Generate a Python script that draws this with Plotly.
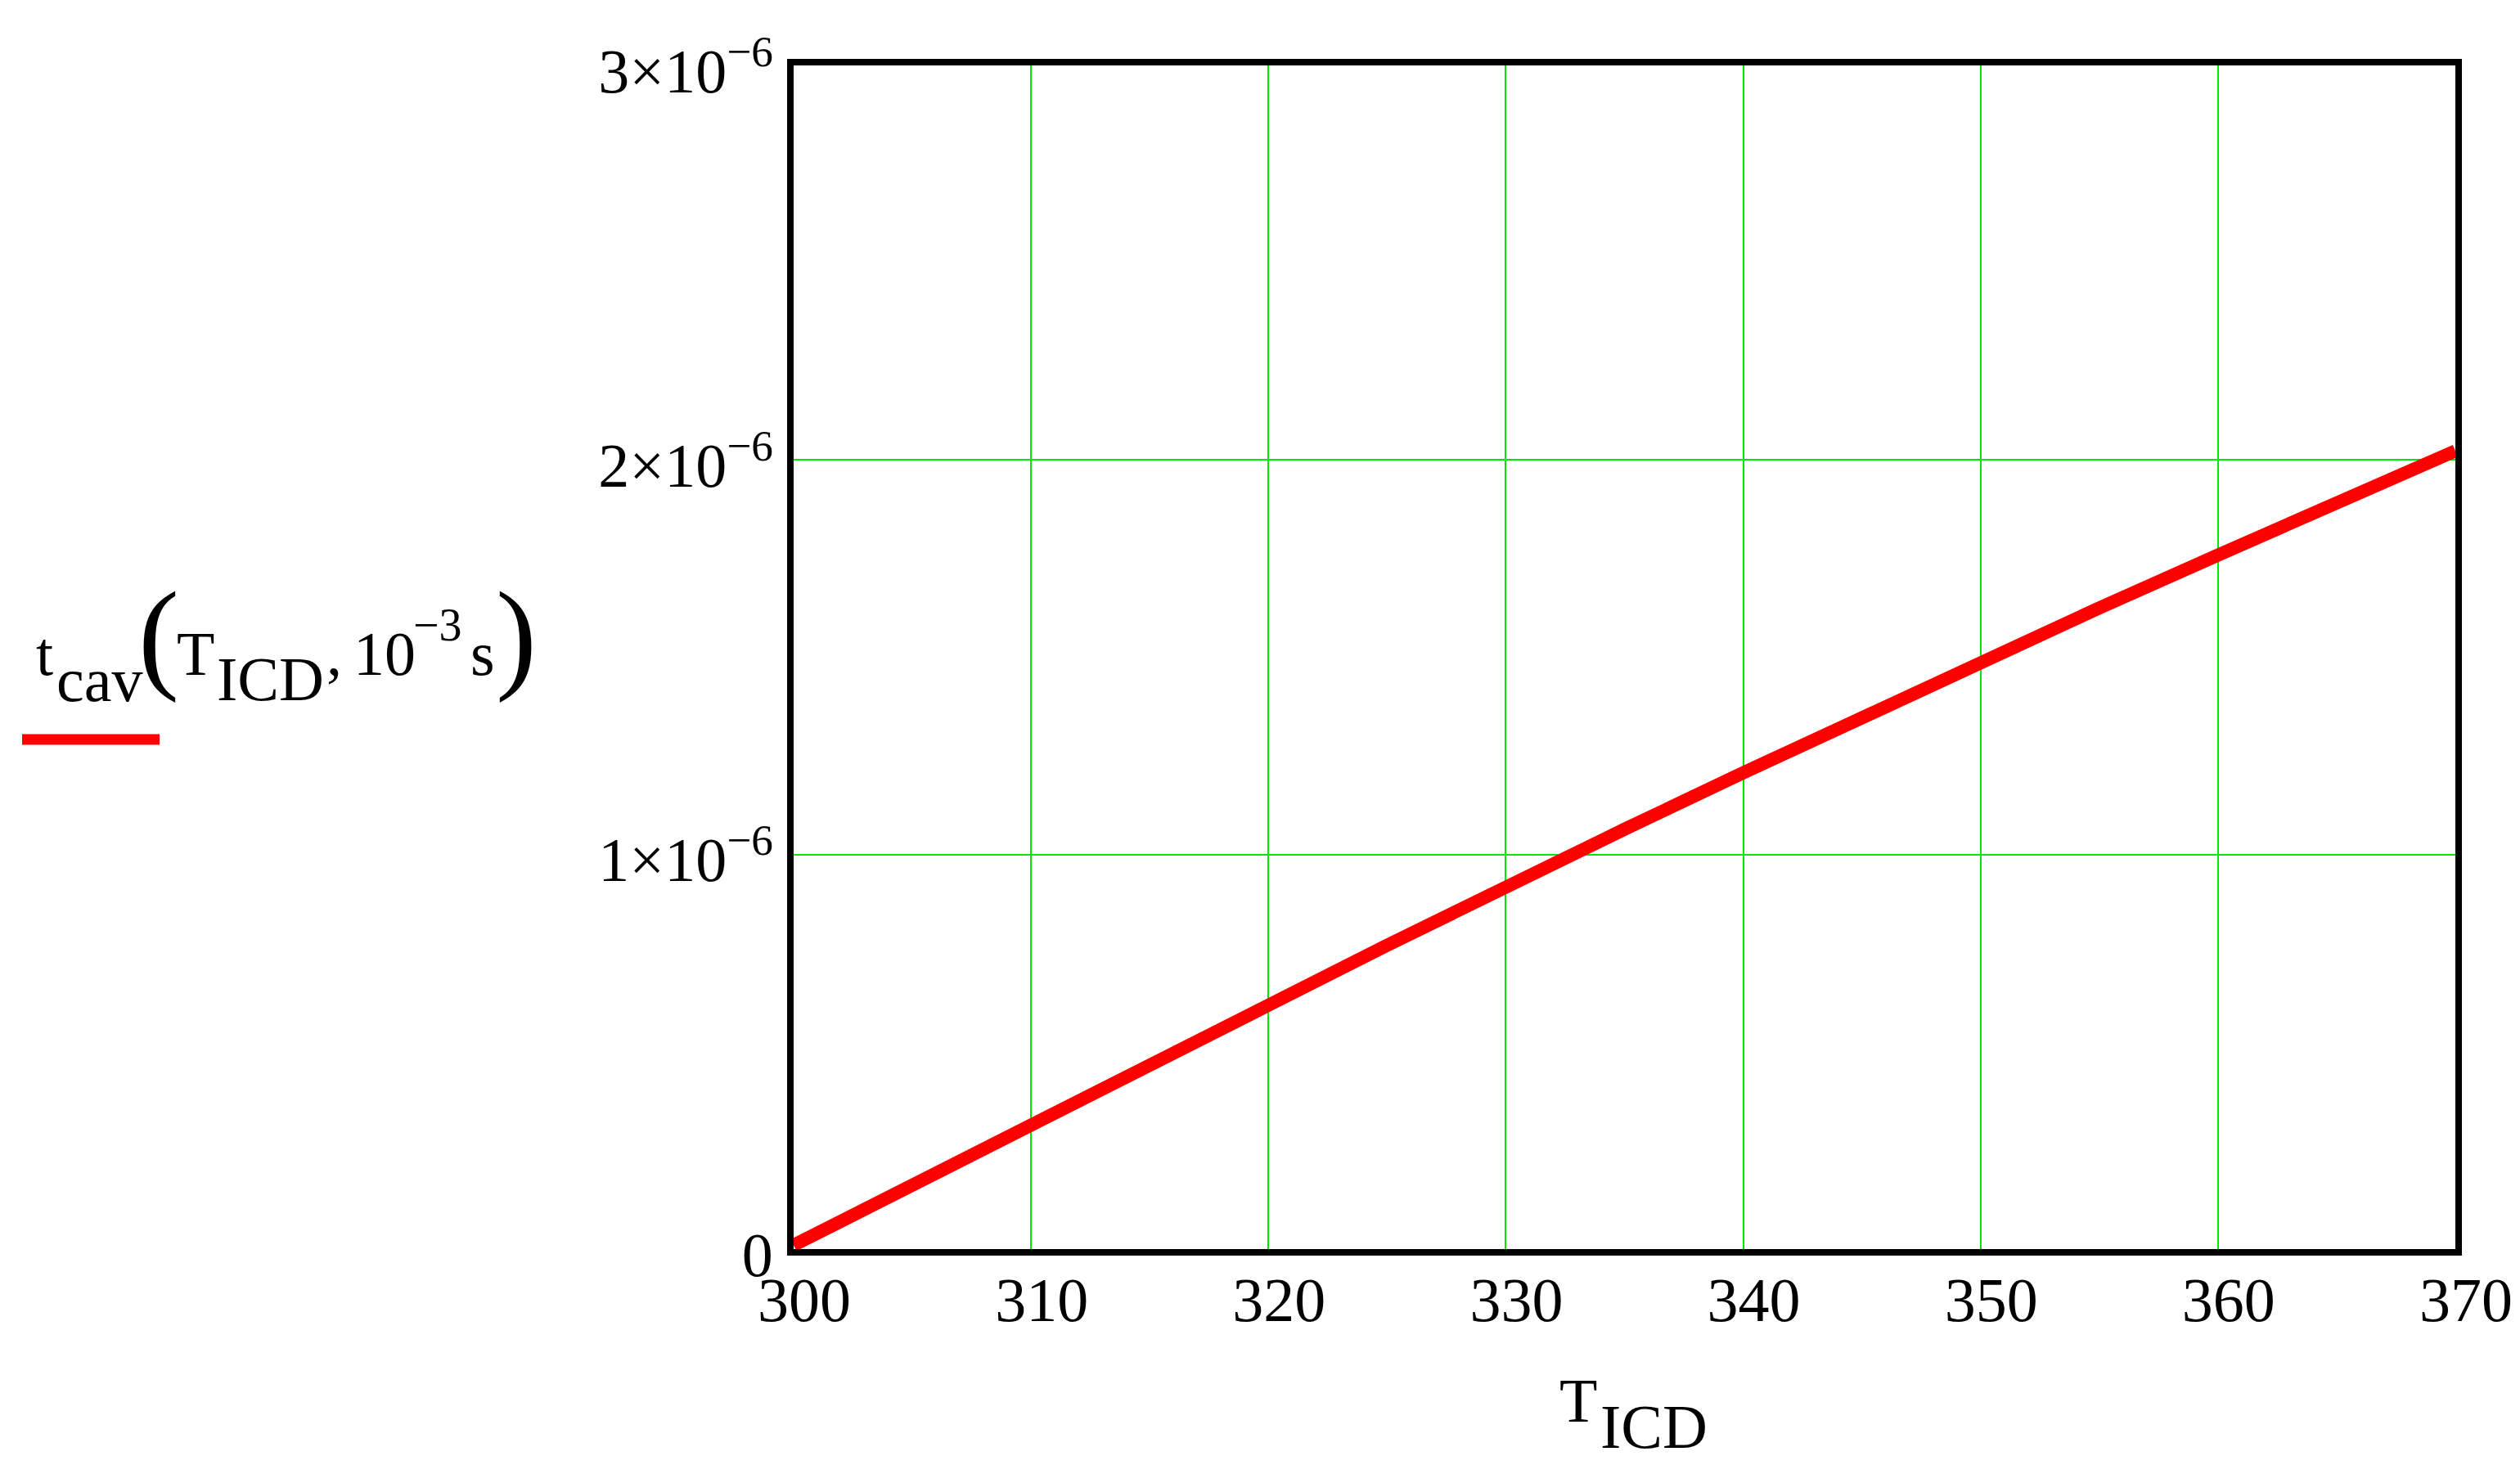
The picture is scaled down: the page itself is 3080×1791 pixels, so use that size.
import plotly.graph_objects as go

# T_ICD values (K) and t_cav
t_icd = [300, 305, 310, 315, 320, 325, 330, 335, 340, 345, 350, 355, 360, 365, 370]
t_cav = [0.010e-6, 0.160e-6, 0.311e-6, 0.466e-6, 0.618e-6, 0.770e-6, 0.919e-6, 1.064e-6,
         1.207e-6, 1.349e-6, 1.490e-6, 1.625e-6, 1.759e-6, 1.892e-6, 2.023e-6]

x_ticks = [300, 310, 320, 330, 340, 350, 360, 370]
y_ticks = [0, 1e-6, 2e-6, 3e-6]
y_ticktext = ["0", "1×10<sup>−6</sup>", "2×10<sup>−6</sup>", "3×10<sup>−6</sup>"]

FONT = "Liberation Serif"
W, H = 3080, 1791
L, R, T, B = 962, 2993, 72, 1519

fig = go.Figure()
fig.add_trace(go.Scatter(
    x=t_icd, y=t_cav, mode="lines",
    line=dict(color="#ff0000", width=16),
    cliponaxis=False, hoverinfo="skip"
))


def px_x(px):
    return (px - L) / (R - L)


def px_y(py):
    return (B - py) / (B - T)


def add_text(text, x, baseline, size):
    # place text by its left edge and baseline, in page pixels
    fig.add_annotation(
        text=text, x=px_x(x), y=px_y(baseline - 0.47 * size),
        xref="paper", yref="paper", xanchor="left", yanchor="middle",
        showarrow=False, font=dict(family=FONT, size=size, color="black")
    )


# y label: t_cav(T_ICD, 10^-3 s)
add_text("t", 34, 827, 76)
add_text("cav", 59, 859, 76)
add_text("(", 159, 839, 150)
add_text("T", 206, 827, 76)
add_text("ICD", 255, 858, 76)
add_text(",", 389, 827, 76)
add_text("10", 422, 827, 76)
add_text("−3", 495, 782, 56)
add_text("s", 565, 827, 76)
add_text(")", 596, 839, 150)

fig.add_shape(type="line", xref="paper", yref="paper",
              x0=px_x(19), x1=px_x(187), y0=px_y(896), y1=px_y(896),
              line=dict(color="#ff0000", width=13))

# x label: T_ICD
add_text("T", 1896, 1740, 76)
add_text("ICD", 1946, 1772, 76)

fig.update_layout(
    width=W, height=H,
    margin=dict(l=L, r=W - R, t=T, b=H - B),
    plot_bgcolor="white", paper_bgcolor="white",
    showlegend=False,
    font=dict(family=FONT, size=76, color="black"),
)
fig.update_xaxes(
    range=[300, 370], tickvals=x_ticks,
    showgrid=True, gridcolor="#00e600", gridwidth=2,
    showline=True, linecolor="black", linewidth=8, mirror=True,
    ticks="", zeroline=False, layer="below traces",
    ticklabelstandoff=-11, ticklabelshift=13,
)
fig.update_yaxes(
    range=[0, 3e-6], tickvals=y_ticks, ticktext=y_ticktext,
    showgrid=True, gridcolor="#00e600", gridwidth=2,
    showline=True, linecolor="black", linewidth=8, mirror=True,
    ticks="", zeroline=False, layer="below traces",
    ticklabelstandoff=2, ticklabelshift=6,
)

fig.write_html("out.html")
